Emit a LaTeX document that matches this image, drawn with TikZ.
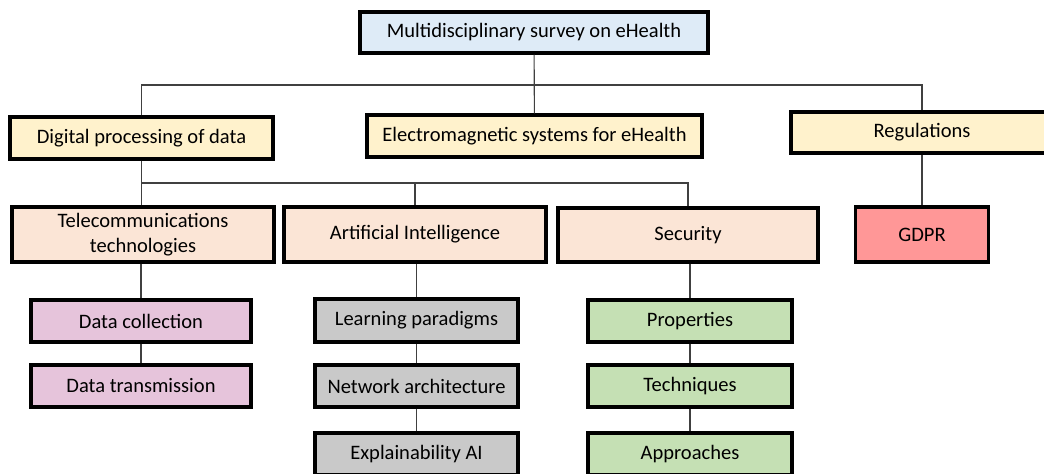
\documentclass[tikz,border=0pt]{standalone}
\usepackage{fontspec}
\setmainfont{Carlito}
\usepackage{xcolor}
\usepackage{tikz}
\usetikzlibrary{positioning,calc}
\definecolor{surveyblue}{HTML}{DEEBF7}
\definecolor{areayellow}{HTML}{FFF2CC}
\definecolor{topicpeach}{HTML}{FBE5D6}
\definecolor{gdprred}{HTML}{FF9797}
\definecolor{telepink}{HTML}{E6C4DB}
\definecolor{aigray}{HTML}{C9C9C9}
\definecolor{secgreen}{HTML}{C5E0B4}

\begin{document}
\begin{tikzpicture}[x=0.025cm, y=-0.025cm,
    font=\fontsize{14.6}{17.5}\selectfont,
    box/.style={draw=black, line width=2.3pt, align=center, inner sep=0pt},
    link/.style={draw=black!75, line width=0.8pt}]
  \useasboundingbox (0,0) rectangle (1044,473);
  % top and first level
  \node[box, fill=surveyblue, minimum width=8.7cm, minimum height=1.02cm] (survey) at (534,32.5) {Multidisciplinary survey on eHealth};
  \node[box, fill=areayellow, minimum width=6.57cm, minimum height=1.05cm] (digital) at (141.5,138) {Digital processing of data};
  \node[box, fill=areayellow, minimum width=8.37cm, minimum height=1.05cm] (electro) at (534.5,136) {Electromagnetic systems for eHealth};
  \node[box, fill=areayellow, minimum width=6.55cm, minimum height=1.02cm] (regul) at (922,132.5) {Regulations};
  % second level
  \node[box, fill=topicpeach, minimum width=6.55cm, minimum height=1.37cm] (telecom) at (143,234.5) {Telecommunications\\technologies};
  \node[box, fill=topicpeach, minimum width=6.55cm, minimum height=1.37cm] (ai) at (415,234.5) {Artificial Intelligence};
  \node[box, fill=topicpeach, minimum width=6.5cm, minimum height=1.35cm] (security) at (688,235) {Security};
  \node[box, fill=gdprred, minimum width=3.32cm, minimum height=1.37cm] (gdpr) at (922,234.5) {GDPR};
  % third level
  \node[box, fill=telepink, minimum width=5.5cm, minimum height=1.05cm] (collect) at (141,321) {Data collection};
  \node[box, fill=telepink, minimum width=5.5cm, minimum height=1.05cm] (transmit) at (141,386) {Data transmission};
  \node[box, fill=aigray, minimum width=5.07cm, minimum height=1.07cm] (learning) at (416.5,320.5) {Learning paradigms};
  \node[box, fill=aigray, minimum width=5.07cm, minimum height=1.05cm] (network) at (416.5,386) {Network architecture};
  \node[box, fill=aigray, minimum width=5.07cm, minimum height=1.05cm] (explain) at (416.5,454) {Explainability AI};
  \node[box, fill=secgreen, minimum width=5.1cm, minimum height=1.05cm] (props) at (690,321) {Properties};
  \node[box, fill=secgreen, minimum width=5.1cm, minimum height=1.05cm] (techniques) at (690,386) {Techniques};
  \node[box, fill=secgreen, minimum width=5.1cm, minimum height=1.05cm] (approaches) at (690,454) {Approaches};
  % connectors
  \coordinate (bus1) at (534,85);
  \coordinate (bus2) at (415,183);
  \draw[link] (survey) -- (electro);
  \draw[link] (digital.north) |- (bus1) -| (regul.north);
  \draw[link] (digital.south) |- (bus2) -| (security.north);
  \draw[link] (digital.south) -- (digital.south |- telecom.north);
  \draw[link] (bus2) -- (ai.north);
  \draw[link] (regul) -- (gdpr);
  \draw[link] (telecom.south -| collect.north) -- (collect.north);
  \draw[link] (collect) -- (transmit);
  \draw[link] (ai.south -| learning.north) -- (learning.north);
  \draw[link] (learning) -- (network);
  \draw[link] (network) -- (explain);
  \draw[link] (security.south -| props.north) -- (props.north);
  \draw[link] (props) -- (techniques);
  \draw[link] (techniques) -- (approaches);
\end{tikzpicture}
\end{document}
